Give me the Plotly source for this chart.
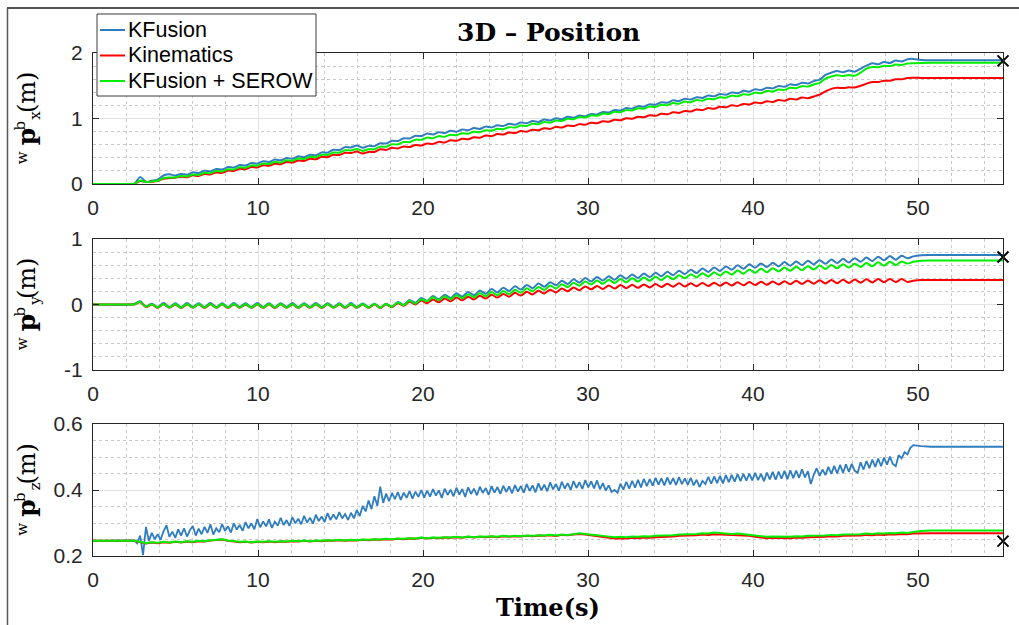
import numpy as np
import plotly.graph_objects as go

# ---------------------------------------------------------------- data
# sample instants: rest, walking phase (0.355 s steps), settling
T_WALK = np.round(2.5 + 0.355 * np.arange(134), 3).tolist()
T = [0.0, 2.3] + T_WALK + [50.2, 50.8, 55.15]
# the noisy KFusion height estimate is logged twice as often
T_WALK_FINE = np.round(2.5 + 0.1775 * np.arange(267), 4).tolist()
T_FINE = [0.0, 2.3] + T_WALK_FINE + [50.2, 50.8, 55.15]

# x position (m)
X_KF = [0.0, 0.0,
    0.000, 0.105, 0.035, 0.050, 0.065, 0.130, 0.150, 0.130, 0.153, 0.142,
    0.178, 0.167, 0.203, 0.192, 0.229, 0.220, 0.259, 0.251, 0.290, 0.281,
    0.320, 0.311, 0.348, 0.336, 0.373, 0.361, 0.397, 0.386, 0.422, 0.410,
    0.447, 0.439, 0.483, 0.479, 0.523, 0.519, 0.563, 0.559, 0.587, 0.553,
    0.582, 0.578, 0.622, 0.618, 0.661, 0.656, 0.699, 0.694, 0.737, 0.732,
    0.770, 0.756, 0.791, 0.777, 0.812, 0.799, 0.833, 0.820, 0.855, 0.841,
    0.876, 0.863, 0.897, 0.884, 0.919, 0.905, 0.940, 0.927, 0.961, 0.948,
    0.983, 0.969, 1.004, 0.990, 1.025, 1.012, 1.046, 1.033, 1.070, 1.061,
    1.100, 1.091, 1.130, 1.121, 1.159, 1.150, 1.189, 1.180, 1.219, 1.210,
    1.249, 1.240, 1.277, 1.266, 1.302, 1.290, 1.326, 1.314, 1.350, 1.338,
    1.374, 1.362, 1.398, 1.386, 1.422, 1.410, 1.447, 1.435, 1.471, 1.460,
    1.496, 1.485, 1.521, 1.510, 1.546, 1.535, 1.571, 1.593, 1.666, 1.700,
    1.726, 1.706, 1.734, 1.715, 1.762, 1.806, 1.842, 1.828, 1.863, 1.849,
    1.884, 1.870, 1.905, 1.910,
    1.895, 1.890, 1.890]
X_KIN = [0.0, 0.0,
    0.000, 0.045, 0.030, 0.035, 0.045, 0.080, 0.090, 0.095, 0.111, 0.102,
    0.132, 0.123, 0.154, 0.145, 0.177, 0.170, 0.204, 0.198, 0.232, 0.226,
    0.259, 0.253, 0.286, 0.278, 0.310, 0.303, 0.335, 0.327, 0.360, 0.352,
    0.385, 0.379, 0.415, 0.410, 0.446, 0.442, 0.477, 0.473, 0.495, 0.465,
    0.490, 0.490, 0.530, 0.521, 0.552, 0.543, 0.574, 0.565, 0.596, 0.587,
    0.618, 0.611, 0.643, 0.635, 0.667, 0.659, 0.691, 0.683, 0.715, 0.707,
    0.739, 0.731, 0.763, 0.755, 0.787, 0.777, 0.808, 0.799, 0.829, 0.820,
    0.851, 0.841, 0.872, 0.862, 0.893, 0.884, 0.914, 0.905, 0.936, 0.927,
    0.959, 0.950, 0.982, 0.973, 1.004, 0.996, 1.027, 1.018, 1.050, 1.041,
    1.072, 1.064, 1.095, 1.085, 1.116, 1.107, 1.137, 1.128, 1.159, 1.149,
    1.180, 1.171, 1.201, 1.192, 1.223, 1.213, 1.244, 1.233, 1.263, 1.252,
    1.282, 1.271, 1.301, 1.291, 1.320, 1.310, 1.336, 1.365, 1.415, 1.452,
    1.468, 1.466, 1.476, 1.475, 1.500, 1.532, 1.556, 1.557, 1.577, 1.578,
    1.598, 1.599, 1.619, 1.622,
    1.620, 1.620, 1.620]
X_SEROW = [0.0, 0.0,
    0.000, 0.055, 0.030, 0.040, 0.050, 0.090, 0.100, 0.100, 0.121, 0.114,
    0.146, 0.139, 0.171, 0.164, 0.197, 0.191, 0.226, 0.220, 0.255, 0.249,
    0.284, 0.278, 0.311, 0.304, 0.337, 0.330, 0.363, 0.356, 0.389, 0.382,
    0.415, 0.410, 0.447, 0.444, 0.481, 0.478, 0.515, 0.512, 0.535, 0.505,
    0.530, 0.530, 0.570, 0.568, 0.606, 0.604, 0.642, 0.639, 0.677, 0.675,
    0.708, 0.699, 0.731, 0.722, 0.753, 0.745, 0.776, 0.768, 0.799, 0.790,
    0.822, 0.813, 0.844, 0.836, 0.868, 0.861, 0.893, 0.886, 0.919, 0.912,
    0.945, 0.937, 0.970, 0.963, 0.996, 0.989, 1.021, 1.014, 1.047, 1.041,
    1.074, 1.068, 1.101, 1.095, 1.128, 1.122, 1.155, 1.149, 1.182, 1.176,
    1.209, 1.203, 1.235, 1.226, 1.258, 1.249, 1.281, 1.272, 1.303, 1.295,
    1.326, 1.317, 1.349, 1.340, 1.371, 1.363, 1.395, 1.387, 1.419, 1.412,
    1.444, 1.437, 1.469, 1.462, 1.494, 1.487, 1.519, 1.545, 1.610, 1.640,
    1.662, 1.648, 1.664, 1.652, 1.700, 1.760, 1.787, 1.782, 1.805, 1.800,
    1.823, 1.818, 1.840, 1.845,
    1.848, 1.850, 1.850]

# y position (m)
Y_KF = [0.0, 0.0,
    0.010, 0.050, -0.030, 0.010, -0.040, 0.022, -0.038, 0.018, -0.041, 0.021,
    -0.037, 0.019, -0.040, 0.023, -0.039, 0.020, -0.042, 0.021, -0.038, 0.019,
    -0.040, 0.022, -0.039, 0.018, -0.041, 0.020, -0.038, 0.021, -0.040, 0.019,
    -0.039, 0.022, -0.040, 0.020, -0.038, 0.018, -0.041, 0.021, -0.040, 0.017,
    -0.042, 0.012, -0.050, 0.010, -0.035, 0.040, -0.005, 0.070, 0.025, 0.100,
    0.055, 0.128, 0.079, 0.149, 0.100, 0.171, 0.121, 0.192, 0.143, 0.213,
    0.164, 0.235, 0.185, 0.256, 0.207, 0.277, 0.228, 0.299, 0.249, 0.320,
    0.271, 0.341, 0.292, 0.362, 0.313, 0.384, 0.334, 0.405, 0.353, 0.420,
    0.366, 0.433, 0.379, 0.446, 0.392, 0.459, 0.405, 0.472, 0.418, 0.484,
    0.431, 0.499, 0.448, 0.516, 0.464, 0.532, 0.480, 0.549, 0.497, 0.565,
    0.513, 0.582, 0.530, 0.598, 0.546, 0.615, 0.562, 0.627, 0.572, 0.637,
    0.582, 0.647, 0.592, 0.657, 0.602, 0.667, 0.612, 0.676, 0.621, 0.686,
    0.632, 0.697, 0.642, 0.707, 0.653, 0.718, 0.663, 0.729, 0.674, 0.739,
    0.685, 0.745, 0.705, 0.735,
    0.752, 0.755, 0.755]
Y_KIN = [0.0, 0.0,
    0.000, 0.035, -0.040, 0.000, -0.050, 0.002, -0.050, -0.002, -0.052, 0.001,
    -0.049, -0.001, -0.051, 0.002, -0.050, 0.000, -0.052, 0.001, -0.049, -0.002,
    -0.051, 0.001, -0.050, 0.000, -0.052, 0.002, -0.049, 0.000, -0.051, 0.001,
    -0.050, -0.001, -0.052, 0.002, -0.049, 0.000, -0.051, 0.001, -0.050, -0.001,
    -0.051, 0.001, -0.050, 0.000, -0.040, 0.020, -0.020, 0.041, 0.001, 0.061,
    0.020, 0.077, 0.034, 0.091, 0.048, 0.106, 0.063, 0.120, 0.077, 0.134,
    0.091, 0.148, 0.105, 0.162, 0.120, 0.178, 0.136, 0.195, 0.153, 0.211,
    0.169, 0.227, 0.185, 0.244, 0.202, 0.260, 0.218, 0.276, 0.232, 0.284,
    0.237, 0.290, 0.243, 0.296, 0.249, 0.301, 0.254, 0.307, 0.260, 0.313,
    0.266, 0.318, 0.271, 0.323, 0.274, 0.326, 0.278, 0.330, 0.281, 0.333,
    0.285, 0.337, 0.289, 0.340, 0.292, 0.344, 0.296, 0.348, 0.300, 0.352,
    0.304, 0.356, 0.309, 0.361, 0.313, 0.365, 0.317, 0.369, 0.321, 0.373,
    0.326, 0.377, 0.329, 0.381, 0.333, 0.384, 0.336, 0.388, 0.340, 0.391,
    0.343, 0.388, 0.345, 0.362,
    0.373, 0.375, 0.375]
Y_SEROW = [0.0, 0.0,
    0.000, 0.040, -0.035, 0.005, -0.045, 0.008, -0.047, 0.007, -0.049, 0.009,
    -0.048, 0.006, -0.047, 0.008, -0.049, 0.007, -0.048, 0.009, -0.047, 0.006,
    -0.048, 0.008, -0.049, 0.007, -0.047, 0.009, -0.048, 0.006, -0.049, 0.008,
    -0.047, 0.007, -0.048, 0.009, -0.049, 0.006, -0.047, 0.008, -0.048, 0.007,
    -0.049, 0.008, -0.048, 0.008, -0.036, 0.032, -0.012, 0.057, 0.013, 0.081,
    0.048, 0.111, 0.063, 0.127, 0.079, 0.143, 0.094, 0.158, 0.110, 0.174,
    0.126, 0.189, 0.141, 0.205, 0.159, 0.225, 0.180, 0.247, 0.201, 0.268,
    0.223, 0.289, 0.244, 0.310, 0.265, 0.332, 0.286, 0.353, 0.305, 0.367,
    0.316, 0.378, 0.328, 0.389, 0.339, 0.401, 0.350, 0.412, 0.362, 0.423,
    0.373, 0.435, 0.385, 0.448, 0.399, 0.463, 0.414, 0.477, 0.428, 0.491,
    0.442, 0.505, 0.456, 0.519, 0.470, 0.534, 0.484, 0.545, 0.494, 0.555,
    0.504, 0.565, 0.514, 0.575, 0.524, 0.585, 0.534, 0.594, 0.543, 0.604,
    0.553, 0.614, 0.563, 0.624, 0.573, 0.634, 0.583, 0.644, 0.592, 0.653,
    0.602, 0.655, 0.625, 0.652,
    0.668, 0.670, 0.670]

# z position (m) -- KFusion on the fine time base
Z_KF = [0.246, 0.246,
    0.247, 0.238, 0.262, 0.203, 0.288, 0.246, 0.270, 0.251, 0.266, 0.249,
    0.275, 0.293, 0.258, 0.274, 0.255, 0.281, 0.262, 0.284, 0.259, 0.278,
    0.291, 0.262, 0.283, 0.266, 0.288, 0.270, 0.296, 0.265, 0.284, 0.272,
    0.297, 0.276, 0.290, 0.271, 0.299, 0.280, 0.294, 0.276, 0.303, 0.284,
    0.299, 0.281, 0.312, 0.287, 0.305, 0.290, 0.311, 0.285, 0.304, 0.292,
    0.316, 0.294, 0.309, 0.291, 0.318, 0.299, 0.313, 0.296, 0.322, 0.301,
    0.316, 0.298, 0.325, 0.306, 0.320, 0.303, 0.330, 0.309, 0.326, 0.311,
    0.333, 0.314, 0.327, 0.309, 0.331, 0.314, 0.339, 0.321, 0.352, 0.335,
    0.368, 0.342, 0.381, 0.352, 0.410, 0.361, 0.389, 0.366, 0.391, 0.372,
    0.394, 0.370, 0.392, 0.376, 0.397, 0.374, 0.395, 0.379, 0.400, 0.377,
    0.398, 0.380, 0.403, 0.383, 0.399, 0.376, 0.404, 0.385, 0.401, 0.381,
    0.407, 0.386, 0.403, 0.379, 0.408, 0.388, 0.404, 0.384, 0.410, 0.391,
    0.406, 0.385, 0.412, 0.392, 0.409, 0.388, 0.413, 0.394, 0.411, 0.390,
    0.415, 0.395, 0.412, 0.392, 0.418, 0.397, 0.414, 0.393, 0.420, 0.399,
    0.416, 0.396, 0.423, 0.402, 0.418, 0.398, 0.425, 0.404, 0.421, 0.400,
    0.427, 0.406, 0.424, 0.403, 0.430, 0.408, 0.426, 0.405, 0.429, 0.402,
    0.421, 0.398, 0.414, 0.394, 0.400, 0.392, 0.419, 0.401, 0.425, 0.404,
    0.428, 0.407, 0.431, 0.408, 0.434, 0.412, 0.433, 0.413, 0.437, 0.416,
    0.435, 0.414, 0.438, 0.417, 0.436, 0.415, 0.439, 0.418, 0.435, 0.416,
    0.437, 0.414, 0.431, 0.409, 0.428, 0.418, 0.440, 0.419, 0.441, 0.421,
    0.443, 0.420, 0.445, 0.424, 0.446, 0.425, 0.448, 0.427, 0.449, 0.428,
    0.450, 0.429, 0.452, 0.430, 0.449, 0.427, 0.453, 0.432, 0.455, 0.431,
    0.456, 0.434, 0.458, 0.433, 0.460, 0.436, 0.459, 0.437, 0.463, 0.438,
    0.457, 0.418, 0.446, 0.466, 0.443, 0.462, 0.445, 0.470, 0.449, 0.473,
    0.450, 0.476, 0.452, 0.478, 0.455, 0.479, 0.458, 0.452, 0.484, 0.462,
    0.488, 0.466, 0.492, 0.470, 0.495, 0.472, 0.498, 0.477, 0.501, 0.479,
    0.472, 0.506, 0.496, 0.515, 0.508, 0.528, 0.536,
    0.533, 0.531, 0.531]
Z_KIN = [0.246, 0.246,
    0.246, 0.242, 0.238, 0.241, 0.239, 0.242, 0.240, 0.243, 0.241, 0.244,
    0.242, 0.245, 0.244, 0.247, 0.248, 0.250, 0.246, 0.244, 0.242, 0.243,
    0.241, 0.243, 0.242, 0.244, 0.242, 0.244, 0.243, 0.245, 0.244, 0.246,
    0.244, 0.246, 0.245, 0.247, 0.246, 0.248, 0.246, 0.248, 0.247, 0.249,
    0.248, 0.250, 0.249, 0.251, 0.250, 0.252, 0.251, 0.253, 0.252, 0.255,
    0.253, 0.255, 0.254, 0.256, 0.255, 0.257, 0.255, 0.258, 0.256, 0.258,
    0.257, 0.259, 0.257, 0.260, 0.258, 0.260, 0.259, 0.261, 0.260, 0.262,
    0.261, 0.263, 0.261, 0.264, 0.263, 0.265, 0.267, 0.265, 0.263, 0.260,
    0.258, 0.255, 0.253, 0.254, 0.253, 0.255, 0.254, 0.256, 0.255, 0.257,
    0.257, 0.259, 0.259, 0.261, 0.261, 0.263, 0.263, 0.265, 0.264, 0.266,
    0.265, 0.265, 0.263, 0.264, 0.262, 0.261, 0.258, 0.255, 0.254, 0.255,
    0.254, 0.255, 0.254, 0.256, 0.255, 0.257, 0.257, 0.259, 0.258, 0.260,
    0.259, 0.261, 0.261, 0.263, 0.262, 0.264, 0.263, 0.265, 0.264, 0.266,
    0.265, 0.267, 0.266, 0.268,
    0.269, 0.269, 0.269]
Z_SEROW = [0.246, 0.246,
    0.246, 0.243, 0.239, 0.242, 0.240, 0.243, 0.241, 0.244, 0.242, 0.245,
    0.243, 0.246, 0.245, 0.248, 0.249, 0.251, 0.247, 0.245, 0.243, 0.244,
    0.242, 0.244, 0.243, 0.245, 0.243, 0.245, 0.244, 0.246, 0.245, 0.247,
    0.245, 0.247, 0.246, 0.248, 0.247, 0.249, 0.247, 0.249, 0.248, 0.250,
    0.249, 0.251, 0.250, 0.252, 0.251, 0.253, 0.252, 0.254, 0.253, 0.256,
    0.254, 0.256, 0.255, 0.257, 0.256, 0.258, 0.256, 0.259, 0.257, 0.259,
    0.258, 0.260, 0.258, 0.261, 0.259, 0.261, 0.260, 0.262, 0.261, 0.263,
    0.262, 0.264, 0.262, 0.265, 0.264, 0.266, 0.269, 0.267, 0.266, 0.263,
    0.261, 0.259, 0.257, 0.258, 0.257, 0.259, 0.258, 0.260, 0.259, 0.261,
    0.261, 0.263, 0.263, 0.265, 0.265, 0.267, 0.267, 0.269, 0.268, 0.271,
    0.269, 0.269, 0.267, 0.268, 0.266, 0.265, 0.262, 0.259, 0.258, 0.259,
    0.258, 0.259, 0.258, 0.260, 0.259, 0.261, 0.261, 0.263, 0.262, 0.264,
    0.263, 0.265, 0.265, 0.267, 0.266, 0.268, 0.267, 0.269, 0.268, 0.270,
    0.269, 0.271, 0.270, 0.273,
    0.276, 0.277, 0.277]

# reference end-point per axis (black cross)
T_END = 55.15
END_MARK = [1.88, 0.725, 0.245]

SERIES_NAMES = ["KFusion", "Kinematics", "KFusion + SEROW"]
Y_SUBS = ["x", "y", "z"]
Y_RANGES = [[0, 2], [-1, 1], [0.2, 0.6]]
Y_TICKS = [[0, 1, 2], [-1, 0, 1], [0.2, 0.4, 0.6]]
Y_TICKTEXT = [["0", "1", "2"], ["-1", "0", "1"], ["0.2", "0.4", "0.6"]]
Y_MINOR = [0.2, 0.2, 0.05]
X_TICKS = [0, 10, 20, 30, 40, 50]

for arr in (X_KF, X_KIN, X_SEROW, Y_KF, Y_KIN, Y_SEROW, Z_KIN, Z_SEROW):
    assert len(arr) == len(T), len(arr)
assert len(Z_KF) == len(T_FINE), len(Z_KF)

# ---------------------------------------------------------------- style
W, H = 1019, 625
BLUE, RED, GREEN = "#2f7dbf", "#ff0000", "#00ee00"
COLORS = [BLUE, RED, GREEN]
AXIS_COL = "#262626"
SANS = "Liberation Sans, Arial, sans-serif"
SERIF = "DejaVu Serif, serif"
TICK_FONT = dict(family=SANS, size=21, color=AXIS_COL)

PLOT_L, PLOT_R = 93, 1003
PANEL_PX = [(53, 184), (239, 370), (424, 556)]


def fx(px):
    return px / W


def fy(py):
    return 1 - py / H


fig = go.Figure()

panels = [
    ((T, X_KF), (T, X_KIN), (T, X_SEROW)),
    ((T, Y_KF), (T, Y_KIN), (T, Y_SEROW)),
    ((T_FINE, Z_KF), (T, Z_KIN), (T, Z_SEROW)),
]

for i, series in enumerate(panels):
    xa = "x" if i == 0 else f"x{i + 1}"
    ya = "y" if i == 0 else f"y{i + 1}"
    smooth = i < 2
    for name, (tt, vals), col in zip(SERIES_NAMES, series, COLORS):
        noisy = (i == 2 and name == "KFusion")
        fig.add_trace(go.Scatter(
            x=tt, y=vals, mode="lines", name=name, showlegend=False,
            line=dict(color=col, width=2 if not noisy else 1.8,
                      shape="spline" if smooth else "linear",
                      smoothing=0.8 if smooth else None),
            xaxis=xa, yaxis=ya, hoverinfo="skip"))
    fig.add_trace(go.Scatter(
        x=[T_END], y=[END_MARK[i]], mode="markers", showlegend=False,
        marker=dict(symbol="x-thin", size=11, color="black",
                    line=dict(width=2, color="black")),
        cliponaxis=False, xaxis=xa, yaxis=ya, hoverinfo="skip"))

layout = dict(
    width=W, height=H,
    margin=dict(l=0, r=0, t=0, b=0, pad=0, autoexpand=False),
    paper_bgcolor="white", plot_bgcolor="white",
    showlegend=False,
)

for i, (top, bot) in enumerate(PANEL_PX):
    sfx = "" if i == 0 else str(i + 1)
    common = dict(
        showline=True, linecolor=AXIS_COL, linewidth=1, mirror="allticks",
        ticks="inside", ticklen=6, tickwidth=1, tickcolor=AXIS_COL,
        showgrid=True, gridcolor="#e1e1e1", gridwidth=1, automargin=False,
        zeroline=False, tickfont=TICK_FONT,
    )
    layout["xaxis" + sfx] = dict(
        common, domain=[fx(PLOT_L), fx(PLOT_R)], range=[0, T_END],
        tickvals=X_TICKS, anchor="y" + sfx, ticklabelstandoff=5,
        minor=dict(dtick=2, tick0=0, showgrid=True, gridcolor="#c8c8c8",
                   griddash="dot", gridwidth=1, ticks=""),
    )
    layout["yaxis" + sfx] = dict(
        common, domain=[fy(bot), fy(top)], range=Y_RANGES[i],
        tickvals=Y_TICKS[i], ticktext=Y_TICKTEXT[i], anchor="x" + sfx,
        ticklabelstandoff=5,
        minor=dict(dtick=Y_MINOR[i], tick0=Y_RANGES[i][0], showgrid=True,
                   gridcolor="#c8c8c8", griddash="dot", gridwidth=1, ticks=""),
    )

annotations = []
shapes = []

# title and time label
annotations.append(dict(text="<b>3D – Position</b>", x=fx(548), y=fy(32),
                        xref="paper", yref="paper", showarrow=False,
                        font=dict(family=SERIF, size=25, color="black"),
                        xanchor="center", yanchor="middle"))
annotations.append(dict(text="<b>Time(s)</b>", x=fx(548), y=fy(607),
                        xref="paper", yref="paper", showarrow=False,
                        font=dict(family=SERIF, size=24, color="black"),
                        xanchor="center", yanchor="middle"))

# rotated axis labels  ^w p_k^b (m), built glyph by glyph
for i, (top, bot) in enumerate(PANEL_PX):
    yc = (top + bot) / 2
    pieces = [
        ("w", 21.8, 39, 15, False),
        ("p", 26.3, 18.5, 25, True),
        ("b", 20.0, 7.0, 15, False),
        (Y_SUBS[i], 34.8, -3.5, 15, False),
        ("(m)", 26.5, -26, 24, False),
    ]
    for txt, px, dy, size, bold in pieces:
        annotations.append(dict(
            text=f"<b>{txt}</b>" if bold else txt,
            x=fx(px), y=fy(yc + dy), xref="paper", yref="paper",
            showarrow=False, textangle=-90, xanchor="center", yanchor="middle",
            font=dict(family=SERIF, size=size, color="black")))

# legend box
LEG_L, LEG_R, LEG_T, LEG_B = 97, 316, 14, 96
LEG_ROWS = [30, 55.5, 81]
shapes.append(dict(type="rect", xref="paper", yref="paper",
                   x0=fx(LEG_L), x1=fx(LEG_R), y0=fy(LEG_B), y1=fy(LEG_T),
                   fillcolor="white", line=dict(color="#3a3a3a", width=1),
                   layer="above"))
for name, col, ry in zip(SERIES_NAMES, COLORS, LEG_ROWS):
    shapes.append(dict(type="line", xref="paper", yref="paper",
                       x0=fx(100), x1=fx(125), y0=fy(ry), y1=fy(ry),
                       line=dict(color=col, width=2), layer="above"))
    annotations.append(dict(text=name, x=fx(126), y=fy(ry), xref="paper",
                            yref="paper", showarrow=False, xanchor="left",
                            yanchor="middle",
                            font=dict(family=SANS, size=21.5, color="black")))

# figure frame
shapes.append(dict(type="line", xref="paper", yref="paper", x0=fx(7), x1=1.0,
                   y0=fy(8), y1=fy(8), line=dict(color="#1a1a1a", width=1.5)))
shapes.append(dict(type="line", xref="paper", yref="paper", x0=fx(7.5), x1=fx(7.5),
                   y0=0, y1=fy(8), line=dict(color="#555555", width=1.5)))

layout["annotations"] = annotations
layout["shapes"] = shapes

fig.update_layout(**layout)
fig.write_html("out.html")
